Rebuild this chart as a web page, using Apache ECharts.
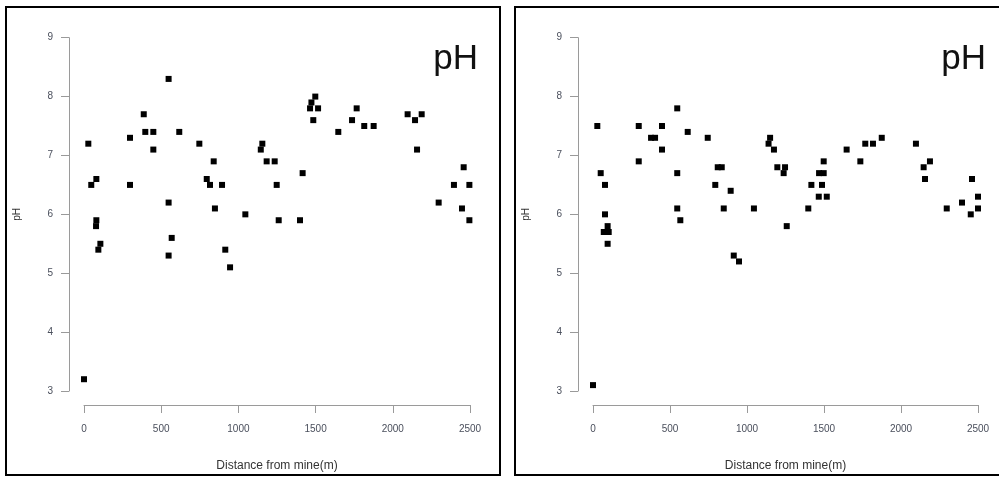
<!DOCTYPE html>
<html>
<head>
<meta charset="utf-8">
<style>
  html, body { margin: 0; padding: 0; background: #fff; }
  #chart { width: 999px; height: 477px; }
</style>
<script src="https://cdn.jsdelivr.net/npm/echarts@6/dist/echarts.min.js"></script>
</head>
<body>
<div id="chart"></div>
<script>
// Soil pH against distance from the mine, two sampling campaigns
const leftDist = [0, 28, 47, 80, 80, 78, 93, 106, 298, 298, 387, 397, 449, 449, 548, 548, 548, 568,
  617, 747, 795, 816, 840, 848, 894, 915, 946, 1045, 1155, 1145, 1183, 1235, 1248, 1261, 1399, 1416,
  1498, 1473, 1464, 1516, 1485, 1647, 1736, 1766, 1815, 1876, 2096, 2144, 2187, 2157, 2297, 2396,
  2459, 2496, 2448, 2496];
const leftPH = [3.2, 7.2, 6.5, 6.6, 5.9, 5.8, 5.4, 5.5, 7.3, 6.5, 7.7, 7.4, 7.4, 7.1, 8.3, 6.2, 5.3, 5.6,
  7.4, 7.2, 6.6, 6.5, 6.9, 6.1, 6.5, 5.4, 5.1, 6.0, 7.2, 7.1, 6.9, 6.9, 6.5, 5.9, 5.9, 6.7,
  8.0, 7.9, 7.8, 7.8, 7.6, 7.4, 7.6, 7.8, 7.5, 7.5, 7.7, 7.6, 7.7, 7.1, 6.2, 6.5,
  6.8, 6.5, 6.1, 5.9];

const rightDist = [0, 28, 50, 78, 78, 70, 95, 102, 95, 297, 297, 377, 403, 448, 448, 547, 547, 547, 567,
  615, 745, 794, 810, 836, 849, 894, 914, 948, 1045, 1150, 1140, 1175, 1197, 1247, 1238, 1258,
  1398, 1418, 1487, 1468, 1498, 1498, 1466, 1518, 1647, 1736, 1768, 1818, 1875, 2097, 2188, 2147,
  2156, 2297, 2396, 2461, 2453, 2500, 2500];
const rightPH = [3.1, 7.5, 6.7, 6.5, 6.0, 5.7, 5.8, 5.7, 5.5, 7.5, 6.9, 7.3, 7.3, 7.5, 7.1, 7.8, 6.7, 6.1, 5.9,
  7.4, 7.3, 6.5, 6.8, 6.8, 6.1, 6.4, 5.3, 5.2, 6.1, 7.3, 7.2, 7.1, 6.8, 6.8, 6.7, 5.8,
  6.1, 6.5, 6.5, 6.7, 6.7, 6.9, 6.3, 6.3, 7.1, 6.9, 7.2, 7.2, 7.3, 7.2, 6.9, 6.8,
  6.6, 6.1, 6.2, 6.6, 6.0, 6.3, 6.1];

const xTicks = [0, 500, 1000, 1500, 2000, 2500];
const yTicks = [3, 4, 5, 6, 7, 8, 9];
const panelTitle = 'pH';
const xName = 'Distance from mine(m)';
const yName = 'pH';

const zip = (xs, ys) => xs.map((x, i) => [x, ys[i]]);

const axisGrey = '#9a9a9a';
const labelGrey = '#4a4f5c';
const fontFam = '"Liberation Sans", Arial, sans-serif';

function xAxisFor(gridIndex) {
  return {
    type: 'value', gridIndex,
    min: xTicks[0], max: xTicks[xTicks.length - 1],
    interval: xTicks[1] - xTicks[0],
    offset: 14,
    axisLine: { show: true, onZero: false, lineStyle: { color: axisGrey, width: 1 } },
    axisTick: { show: true, length: 8, lineStyle: { color: axisGrey } },
    axisLabel: { margin: 19, fontSize: 10, color: labelGrey, fontFamily: fontFam,
      formatter: v => String(v) },
    splitLine: { show: false },
    name: xName, nameLocation: 'middle', nameGap: 55,
    nameTextStyle: { fontSize: 12, color: '#333', fontFamily: fontFam }
  };
}
function yAxisFor(gridIndex) {
  return {
    type: 'value', gridIndex,
    min: yTicks[0], max: yTicks[yTicks.length - 1],
    interval: 1,
    offset: 15,
    axisLine: { show: true, onZero: false, lineStyle: { color: axisGrey, width: 1 } },
    axisTick: { show: true, length: 8, lineStyle: { color: axisGrey } },
    axisLabel: { margin: 16, fontSize: 10, color: labelGrey, fontFamily: fontFam,
      formatter: v => String(v) },
    splitLine: { show: false },
    name: yName, nameLocation: 'middle', nameGap: 47,
    nameTextStyle: { fontSize: 10, color: '#333', fontFamily: fontFam }
  };
}
function scatterFor(idx, data) {
  return {
    type: 'scatter', xAxisIndex: idx, yAxisIndex: idx,
    data, symbol: 'rect', symbolSize: 6, clip: false,
    itemStyle: { color: '#000', opacity: 1 }, silent: true
  };
}

const chart = echarts.init(document.getElementById('chart'), null, { renderer: 'canvas' });
chart.setOption({
  animation: false,
  backgroundColor: '#fff',
  title: [
    { text: panelTitle, right: 521, top: 42, padding: 0,
      textStyle: { fontSize: 35, fontWeight: 'normal', color: '#111', fontFamily: fontFam } },
    { text: panelTitle, right: 13, top: 42, padding: 0,
      textStyle: { fontSize: 35, fontWeight: 'normal', color: '#111', fontFamily: fontFam } }
  ],
  grid: [
    { left: 84, top: 37.7, width: 386, height: 355 },
    { left: 593, top: 37.7, width: 385, height: 355 }
  ],
  xAxis: [xAxisFor(0), xAxisFor(1)],
  yAxis: [yAxisFor(0), yAxisFor(1)],
  series: [scatterFor(0, zip(leftDist, leftPH)), scatterFor(1, zip(rightDist, rightPH))],
  graphic: [
    { type: 'rect', shape: { x: 6, y: 7, width: 494, height: 468 },
      style: { fill: 'none', stroke: '#000', lineWidth: 2 }, silent: true },
    { type: 'rect', shape: { x: 515, y: 7, width: 500, height: 468 },
      style: { fill: 'none', stroke: '#000', lineWidth: 2 }, silent: true }
  ]
});
</script>
</body>
</html>
